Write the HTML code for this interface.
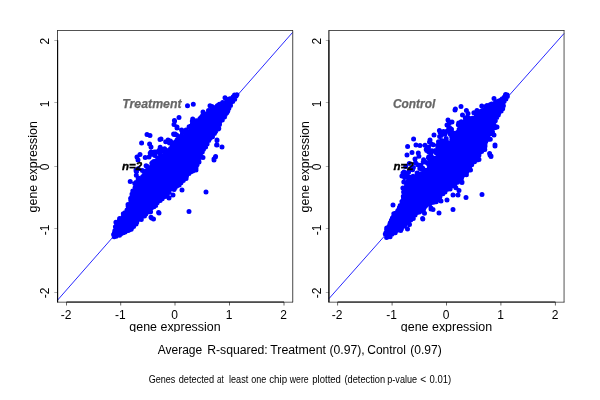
<!DOCTYPE html><html><head><meta charset="utf-8"><style>html,body{margin:0;padding:0;background:#fff}svg{display:block;will-change:transform}text{font-family:"Liberation Sans",sans-serif;fill:#000}</style></head><body>
<svg width="600" height="400" viewBox="0 0 600 400">
<rect width="600" height="400" fill="#fff"/>
<defs><clipPath id="cx"><rect x="0" y="0" width="600" height="332"/></clipPath></defs>
<line x1="57.5" y1="300.2" x2="292.5" y2="32.5" stroke="#2828ff" stroke-width="1.0"/>
<polygon points="114.6,236.0 115.0,236.3 117.1,235.1 117.4,234.9 121.9,232.9 122.0,232.9 126.0,231.4 126.2,231.3 129.3,230.4 131.3,229.1 132.4,226.4 132.5,226.2 132.7,225.9 132.8,225.7 133.0,225.5 133.2,225.3 133.4,225.2 133.7,225.0 133.9,224.9 136.6,223.8 137.6,222.1 137.8,221.8 138.0,221.5 147.0,212.5 147.1,212.4 152.1,207.9 152.1,207.9 156.5,204.0 161.9,198.1 162.0,198.0 168.0,192.0 168.2,191.9 168.4,191.7 175.4,186.7 175.6,186.6 180.1,183.9 183.8,179.3 184.0,179.0 186.9,176.2 189.8,172.3 190.0,172.0 193.9,168.1 197.5,163.6 199.3,158.1 199.4,158.0 201.4,153.0 201.5,152.8 201.6,152.6 207.5,142.7 210.5,136.7 210.6,136.5 210.8,136.2 211.0,136.0 215.8,131.3 218.4,126.8 220.3,121.1 220.4,120.9 220.6,120.6 220.7,120.4 223.2,116.9 226.1,112.5 228.6,108.6 230.5,104.7 230.7,104.4 233.7,99.9 233.7,99.9 236.2,96.4 237.0,95.2 233.9,96.0 232.0,98.0 231.7,98.2 231.4,98.4 226.4,101.4 226.3,101.5 221.4,103.9 217.5,106.3 212.6,109.8 212.5,109.9 204.7,114.8 200.8,118.1 200.6,118.3 193.8,123.1 190.1,126.9 186.2,131.7 186.0,132.0 185.8,132.2 180.1,136.9 176.3,142.6 176.2,142.8 171.2,148.8 171.0,149.0 170.8,149.2 158.8,159.2 158.7,159.2 154.0,163.0 150.2,167.7 150.2,167.8 145.2,173.8 145.0,174.0 136.5,182.5 134.7,188.8 134.6,189.0 132.7,193.9 130.7,200.8 130.7,200.9 128.7,206.9 128.5,207.3 126.5,211.3 126.3,211.5 126.2,211.8 123.9,214.5 122.5,217.3 122.4,217.5 122.2,217.8 122.0,218.0 121.7,218.2 119.7,219.8 117.4,223.9 117.4,223.9 115.8,226.7 115.8,230.0 115.8,230.3 115.8,230.5 115.7,230.8 115.6,231.0 115.5,231.2 115.4,231.5 115.2,231.7 114.1,233.1 113.9,234.6 114.6,236.0" fill="#0000ff"/>
<path d="M114.2 236.8h0M116.1 236.2h0M117.1 234.8h0M120.7 234.0h0M121.9 232.6h0M123.4 232.8h0M125.1 231.9h0M128.3 230.6h0M130.5 229.5h0M131.2 229.2h0M132.1 227.5h0M132.2 226.0h0M136.1 224.1h0M136.7 222.4h0M139.6 219.3h0M141.0 218.7h0M141.5 217.3h0M144.5 216.0h0M145.8 213.9h0M146.5 212.5h0M149.5 211.8h0M151.4 208.0h0M152.9 206.5h0M153.9 206.8h0M155.7 205.4h0M157.2 202.8h0M160.2 200.4h0M162.2 198.7h0M163.1 195.3h0M165.7 195.1h0M167.6 193.7h0M169.1 192.3h0M170.6 189.1h0M174.1 189.4h0M175.3 187.2h0M176.8 186.1h0M179.2 184.9h0M181.0 182.8h0M183.3 180.5h0M186.1 178.4h0M186.5 176.3h0M189.0 173.5h0M191.0 171.7h0M192.9 169.2h0M195.6 167.1h0M196.9 165.0h0M197.5 163.3h0M198.7 160.4h0M199.3 157.8h0M200.5 154.4h0M201.1 152.4h0M202.3 151.9h0M203.5 149.3h0M205.6 147.1h0M207.1 144.1h0M208.7 140.6h0M209.3 139.3h0M210.9 136.0h0M212.1 134.1h0M214.4 133.5h0M215.7 131.3h0M217.3 129.2h0M218.8 128.4h0M219.5 124.5h0M219.8 121.9h0M222.3 119.9h0M223.5 117.0h0M225.2 114.7h0M226.5 113.1h0M227.8 110.9h0M228.9 108.3h0M230.5 105.6h0M231.0 102.4h0M232.7 101.4h0M234.7 99.2h0M236.1 96.1h0M236.9 94.7h0M234.5 95.0h0M233.2 96.7h0M230.5 98.7h0M227.5 100.7h0M226.1 102.0h0M222.6 102.6h0M220.8 104.2h0M219.4 104.3h0M217.3 105.7h0M214.5 107.7h0M211.6 109.7h0M209.6 111.1h0M208.0 113.2h0M204.7 114.0h0M202.6 115.6h0M200.8 117.8h0M199.9 118.8h0M196.3 120.7h0M194.9 121.8h0M192.4 123.8h0M191.0 126.1h0M189.1 126.8h0M186.0 130.0h0M184.6 132.2h0M182.7 132.6h0M181.1 136.0h0M178.9 136.8h0M177.9 139.4h0M176.8 140.6h0M175.6 144.2h0M173.6 146.1h0M172.2 146.8h0M170.6 148.4h0M169.1 150.1h0M167.7 151.7h0M165.1 152.3h0M162.8 155.7h0M161.0 157.7h0M159.3 158.5h0M157.8 160.5h0M155.9 161.1h0M154.0 163.8h0M152.3 165.8h0M151.0 167.3h0M148.3 169.7h0M145.3 173.6h0M143.8 175.3h0M142.6 176.8h0M139.9 179.0h0M137.9 180.8h0M135.9 182.4h0M136.0 184.0h0M135.0 187.8h0M135.0 188.4h0M132.8 191.1h0M132.0 193.9h0M132.1 195.8h0M130.7 198.3h0M130.8 200.5h0M129.0 204.4h0M128.1 205.9h0M128.5 208.0h0M127.0 209.9h0M124.9 212.7h0M124.2 214.2h0M123.0 216.9h0M120.5 219.4h0M118.7 221.7h0M117.7 223.3h0M116.3 225.6h0M115.4 226.7h0M116.8 230.1h0M114.5 232.6h0M113.6 234.6h0M138.1 168.7h0M158.9 150.4h0M157.7 159.1h0M125.1 232.1h0M224.5 117.0h0M130.6 198.6h0M160.2 152.6h0M142.4 170.6h0M165.6 196.0h0M171.5 142.2h0M130.2 181.5h0M175.3 187.4h0M155.6 152.1h0M147.0 166.3h0M218.2 129.0h0M165.6 196.0h0M165.7 141.7h0M160.7 151.1h0M165.1 196.5h0M192.8 171.0h0M123.3 213.7h0M169.5 142.9h0M141.3 219.4h0M154.9 155.5h0M150.2 152.9h0M119.5 235.2h0M136.1 171.1h0M164.6 148.8h0M214.8 132.8h0M145.2 157.5h0M175.4 142.3h0M134.8 183.6h0M136.3 175.3h0M175.1 134.1h0M166.4 196.1h0M197.1 164.8h0M135.8 183.7h0M152.4 162.5h0M138.2 178.0h0M136.7 171.3h0M128.0 204.4h0M151.8 163.3h0M133.6 226.5h0M210.5 137.7h0M208.5 110.4h0M218.1 105.3h0M154.3 151.9h0M146.8 170.4h0M153.7 161.6h0M212.8 108.2h0M159.7 153.1h0M114.8 230.8h0M177.0 139.9h0M227.0 112.6h0M182.4 133.0h0M181.6 129.9h0M167.4 141.2h0M192.6 119.8h0M159.5 157.3h0M115.9 222.3h0M119.6 218.5h0M229.2 98.9h0M201.6 116.9h0M183.3 132.6h0M150.6 211.7h0M160.2 147.2h0M170.4 140.9h0M153.1 154.4h0M176.6 135.1h0M119.5 219.6h0M146.1 165.7h0M165.1 152.6h0M192.7 119.0h0M192.3 121.2h0M212.5 136.7h0M206.0 192.0h0M189.0 211.6h0M158.6 212.6h0M151.6 218.0h0M173.0 195.0h0M169.0 198.0h0M182.0 190.0h0M196.0 170.0h0M151.0 217.2h0M153.5 219.0h0M159.0 213.0h0M147.0 134.4h0M150.0 135.4h0M141.6 143.0h0M160.0 139.6h0M168.0 140.4h0M170.0 141.6h0M149.6 144.0h0M151.0 147.0h0M174.4 120.4h0M179.0 117.6h0M174.0 124.4h0M177.0 127.0h0M174.0 134.4h0M140.0 154.4h0M137.0 157.0h0M138.0 160.0h0M151.0 152.0h0M149.0 157.0h0M136.0 170.0h0M203.0 112.0h0M222.0 147.0h0M217.0 145.0h0M217.0 140.4h0M215.4 157.0h0M214.0 160.0h0M203.0 157.4h0M199.0 162.0h0M196.0 168.0h0M187.5 105.7h0M193.3 104.3h0M179.0 117.4h0M174.6 121.0h0M177.0 128.0h0M173.6 134.0h0M210.0 105.8h0M212.0 106.5h0M225.0 97.8h0M168.0 140.0h0M161.0 139.0h0M217.0 140.0h0M216.6 145.0h0M222.0 147.0h0M215.6 156.6h0M214.0 159.0h0" stroke="#0000ff" stroke-width="5" stroke-linecap="round" fill="none"/>
<line x1="57.0" y1="30.5" x2="293.0" y2="30.5" stroke="#000" stroke-width="1" stroke-opacity="0.68"/>
<line x1="57.0" y1="302.2" x2="293.0" y2="302.2" stroke="#000" stroke-width="1" stroke-opacity="0.62"/>
<line x1="57.5" y1="30.5" x2="57.5" y2="302.2" stroke="#000" stroke-width="1" stroke-opacity="0.7"/>
<line x1="292.7" y1="30.5" x2="292.7" y2="302.2" stroke="#000" stroke-width="1.1" stroke-opacity="0.66"/>
<line x1="57.6" y1="40.3" x2="57.6" y2="302.2" stroke="#000" stroke-width="1.2" stroke-opacity="0.9"/>
<line x1="66.5" y1="302.0" x2="284.0" y2="302.0" stroke="#000" stroke-width="1.5" stroke-opacity="0.62"/>
<line x1="66.5" y1="302.2" x2="66.5" y2="305.5" stroke="#000" stroke-opacity="0.6"/>
<line x1="57.5" y1="292.5" x2="54.3" y2="292.5" stroke="#000" stroke-opacity="0.4" stroke-width="0.8"/>
 <text x="66.1" y="319.4" font-size="12" text-anchor="middle">-2</text>
<text transform="translate(49.2,292.9) rotate(-90)" font-size="12" text-anchor="middle">-2</text>
<line x1="120.7" y1="302.2" x2="120.7" y2="305.5" stroke="#000" stroke-opacity="0.6"/>
<line x1="57.5" y1="228.5" x2="54.3" y2="228.5" stroke="#000" stroke-opacity="0.4" stroke-width="0.8"/>
 <text x="120.3" y="319.4" font-size="12" text-anchor="middle">-1</text>
<text transform="translate(49.2,229.9) rotate(-90)" font-size="12" text-anchor="middle">-1</text>
<line x1="175.0" y1="302.2" x2="175.0" y2="305.5" stroke="#000" stroke-opacity="0.6"/>
<line x1="57.5" y1="166.5" x2="54.3" y2="166.5" stroke="#000" stroke-opacity="0.4" stroke-width="0.8"/>
 <text x="174.6" y="319.4" font-size="12" text-anchor="middle">0</text>
<text transform="translate(49.2,166.9) rotate(-90)" font-size="12" text-anchor="middle">0</text>
<line x1="229.5" y1="302.2" x2="229.5" y2="305.5" stroke="#000" stroke-opacity="0.6"/>
<line x1="57.5" y1="102.5" x2="54.3" y2="102.5" stroke="#000" stroke-opacity="0.4" stroke-width="0.8"/>
 <text x="229.1" y="319.4" font-size="12" text-anchor="middle">1</text>
<text transform="translate(49.2,103.9) rotate(-90)" font-size="12" text-anchor="middle">1</text>
<line x1="284.0" y1="302.2" x2="284.0" y2="305.5" stroke="#000" stroke-opacity="0.6"/>
<line x1="57.5" y1="40.5" x2="54.3" y2="40.5" stroke="#000" stroke-opacity="0.4" stroke-width="0.8"/>
 <text x="283.6" y="319.4" font-size="12" text-anchor="middle">2</text>
<text transform="translate(49.2,41.2) rotate(-90)" font-size="12" text-anchor="middle">2</text>
<text x="175.0"  y="331" font-size="12.45" text-anchor="middle" clip-path="url(#cx)">gene expression</text>
<text transform="translate(37.0,166.8) rotate(-90)" font-size="12.45" text-anchor="middle">gene expression</text>
<text x="122.3" y="107.8" font-size="12.3" font-weight="bold" font-style="italic" stroke="#666" stroke-width="0.25" style="fill:#666">Treatment</text>
<text x="122.1" y="170.2" font-size="11.5" font-weight="bold" font-style="italic" stroke="#000" stroke-width="0.35">n=2</text>
<line x1="329.0" y1="298.6" x2="564.0" y2="33.5" stroke="#2828ff" stroke-width="1.0"/>
<polygon points="386.6,236.6 387.9,237.0 390.4,236.1 393.5,233.0 393.7,232.9 393.9,232.7 394.1,232.6 397.6,230.6 397.7,230.5 400.5,229.1 402.9,227.1 405.2,223.9 405.4,223.7 405.6,223.5 405.8,223.3 406.0,223.1 409.3,221.0 410.5,218.7 410.6,218.5 410.8,218.3 411.0,218.1 411.2,217.9 415.2,214.4 415.3,214.3 415.5,214.1 419.2,211.8 425.0,206.0 425.2,205.8 425.4,205.7 428.4,203.7 428.7,203.5 434.5,200.6 440.1,195.9 450.0,186.0 450.2,185.8 450.4,185.7 456.3,181.7 461.0,178.0 466.8,171.2 472.7,163.3 477.7,156.4 481.6,150.6 483.4,146.9 487.4,137.0 487.5,136.7 490.4,130.9 492.4,126.0 494.3,120.1 494.5,119.8 494.6,119.6 494.8,119.3 497.8,115.3 498.0,115.0 499.5,113.5 500.8,109.2 500.8,109.1 501.8,106.1 502.0,105.7 504.0,101.7 504.1,101.6 504.2,101.4 506.6,98.1 507.7,95.5 505.7,96.1 503.5,97.5 501.3,100.6 501.1,100.9 500.9,101.1 500.7,101.2 500.4,101.4 497.9,102.9 497.7,103.0 497.4,103.2 497.0,103.2 492.8,104.1 489.8,106.6 489.6,106.8 486.7,108.8 484.2,110.7 484.0,110.8 483.8,111.0 483.6,111.1 483.3,111.2 483.0,111.2 479.0,112.0 477.8,113.6 475.4,117.5 475.2,117.7 475.0,117.9 474.8,118.1 474.6,118.3 474.4,118.4 474.1,118.6 473.9,118.7 473.6,118.7 473.3,118.8 470.0,119.2 466.1,122.0 463.4,126.4 463.2,126.7 463.1,126.9 462.9,127.1 458.0,131.5 454.2,135.7 450.9,141.0 450.7,141.2 446.2,147.2 446.2,147.3 441.2,153.3 441.1,153.4 436.1,158.8 428.2,168.7 428.0,169.0 427.7,169.2 422.7,173.2 422.4,173.4 417.4,176.4 417.3,176.5 411.5,179.4 408.2,181.8 406.6,185.1 404.7,189.8 403.8,194.3 403.8,199.0 403.8,199.3 403.7,199.6 403.7,199.9 401.7,205.9 401.6,206.1 401.4,206.4 401.3,206.6 401.1,206.8 398.4,210.1 397.0,212.8 396.9,213.0 396.7,213.2 396.6,213.4 396.4,213.6 396.2,213.8 395.9,213.9 394.3,214.9 393.1,217.9 392.2,220.9 392.1,221.1 391.9,221.4 391.8,221.6 391.7,221.8 391.5,222.0 389.9,223.6 388.6,226.6 388.5,226.8 388.3,227.1 388.2,227.3 388.0,227.5 386.5,229.0 386.8,230.5 386.8,230.8 386.8,231.1 386.8,231.4 386.7,231.7 386.6,231.9 386.5,232.2 386.4,232.4 385.3,234.3 385.3,235.0 386.6,236.6" fill="#0000ff"/>
<path d="M386.6 237.5h0M390.1 236.8h0M391.8 234.3h0M395.2 232.8h0M396.6 230.4h0M400.7 230.5h0M401.4 228.9h0M403.7 226.3h0M404.5 225.7h0M407.4 222.7h0M408.5 221.6h0M410.7 220.1h0M411.8 217.6h0M413.5 216.1h0M415.1 215.1h0M417.4 212.6h0M419.4 212.0h0M422.0 210.7h0M423.2 208.0h0M425.0 206.4h0M426.2 205.3h0M428.5 204.1h0M430.5 202.9h0M433.1 201.3h0M435.3 200.5h0M437.5 198.8h0M438.7 197.2h0M439.9 196.8h0M442.9 193.8h0M445.0 192.1h0M445.0 191.2h0M446.9 189.6h0M448.9 186.9h0M451.6 184.7h0M452.9 185.0h0M454.2 182.0h0M457.5 182.3h0M459.1 180.1h0M461.2 178.2h0M462.7 175.6h0M465.1 173.3h0M466.5 172.8h0M468.8 170.0h0M469.7 166.7h0M471.7 164.7h0M473.7 161.3h0M475.7 160.3h0M477.3 157.7h0M478.9 155.6h0M479.5 152.8h0M481.6 151.4h0M482.9 148.9h0M484.5 146.1h0M485.0 145.0h0M485.7 141.7h0M486.6 140.0h0M486.8 138.8h0M488.1 136.0h0M489.7 134.0h0M490.2 130.4h0M491.7 128.7h0M492.3 126.8h0M493.8 123.9h0M493.7 121.2h0M495.4 118.7h0M496.7 117.6h0M498.3 115.0h0M498.9 112.9h0M501.2 111.0h0M501.7 107.8h0M501.4 105.8h0M503.0 102.7h0M504.2 101.2h0M505.9 99.1h0M507.4 96.6h0M507.3 95.1h0M505.4 95.3h0M504.4 97.0h0M502.3 98.7h0M501.0 99.9h0M499.2 100.8h0M497.5 102.8h0M494.7 103.3h0M491.6 104.1h0M490.0 106.2h0M487.7 107.5h0M484.3 110.2h0M481.6 111.0h0M480.5 112.2h0M477.7 112.7h0M476.4 115.5h0M474.8 118.3h0M472.9 118.6h0M469.9 118.6h0M467.0 120.3h0M465.2 121.3h0M465.1 122.1h0M463.3 125.6h0M461.6 127.5h0M460.1 129.6h0M458.0 132.0h0M456.3 132.9h0M455.5 134.4h0M453.6 136.7h0M452.6 137.8h0M451.8 139.7h0M448.7 143.0h0M447.5 144.5h0M446.1 147.8h0M444.4 149.8h0M443.0 150.3h0M441.1 153.3h0M440.0 154.3h0M438.3 156.3h0M436.1 158.2h0M435.4 160.4h0M432.9 161.8h0M431.1 164.4h0M429.3 167.9h0M428.3 169.7h0M425.7 170.6h0M423.4 172.5h0M421.8 174.0h0M418.5 174.1h0M417.0 176.5h0M414.2 178.4h0M411.6 179.0h0M410.5 180.5h0M408.0 181.4h0M406.6 184.7h0M406.2 186.7h0M404.2 189.5h0M403.6 191.9h0M403.3 196.2h0M403.5 197.5h0M403.4 199.6h0M401.9 201.5h0M402.6 203.5h0M402.5 205.9h0M401.0 207.5h0M397.9 210.6h0M397.4 211.7h0M395.4 213.3h0M393.8 213.7h0M393.5 216.6h0M392.5 218.3h0M391.4 220.3h0M390.2 223.1h0M389.8 224.4h0M388.8 226.5h0M386.7 227.9h0M386.6 229.2h0M386.0 232.6h0M385.3 234.0h0M451.5 129.3h0M422.8 168.2h0M441.1 135.6h0M413.1 176.3h0M409.0 177.2h0M465.4 118.6h0M450.3 134.3h0M443.6 143.8h0M399.6 207.3h0M408.9 176.8h0M493.8 127.9h0M428.8 156.8h0M490.3 139.2h0M441.8 151.0h0M408.6 171.9h0M449.3 127.2h0M485.0 146.3h0M430.4 158.0h0M450.7 128.8h0M502.4 107.5h0M461.3 121.8h0M446.3 131.4h0M438.0 145.0h0M448.7 128.1h0M420.4 167.4h0M451.0 134.8h0M428.7 164.4h0M448.8 130.4h0M445.2 140.9h0M404.7 177.5h0M426.2 149.5h0M417.8 164.7h0M403.8 182.0h0M476.7 159.8h0M413.4 167.4h0M460.7 178.9h0M491.7 129.1h0M452.3 132.3h0M413.2 216.7h0M466.4 174.8h0M446.2 138.6h0M390.3 222.7h0M428.6 151.7h0M444.9 192.0h0M443.1 143.3h0M461.5 178.3h0M399.4 207.4h0M474.3 112.9h0M423.7 209.0h0M404.6 172.8h0M503.4 105.8h0M490.4 104.6h0M434.7 158.4h0M443.5 131.4h0M458.3 124.8h0M436.2 201.8h0M435.6 152.0h0M440.3 147.5h0M400.2 205.5h0M470.5 170.1h0M478.1 159.7h0M474.5 161.8h0M437.8 147.1h0M477.0 110.5h0M413.3 218.5h0M429.7 162.0h0M436.5 153.2h0M457.8 181.8h0M505.6 94.4h0M459.1 129.2h0M454.7 184.1h0M458.7 123.0h0M428.4 157.7h0M426.5 162.4h0M442.7 147.2h0M415.5 162.7h0M454.9 184.3h0M497.0 101.7h0M475.5 113.4h0M449.0 188.6h0M467.3 117.1h0M419.8 168.6h0M417.1 172.9h0M466.3 118.1h0M409.3 163.5h0M428.3 151.0h0M426.7 150.6h0M493.7 126.4h0M401.9 176.0h0M438.5 141.8h0M443.5 133.9h0M473.9 112.8h0M441.6 140.6h0M418.9 156.2h0M454.8 183.3h0M494.5 125.9h0M487.7 139.5h0M418.9 174.2h0M392.4 218.1h0M449.2 128.1h0M405.7 166.5h0M411.4 178.3h0M428.5 147.2h0M484.8 149.4h0M436.1 151.0h0M478.6 111.8h0M421.6 173.4h0M423.2 161.9h0M495.3 120.8h0M406.9 173.2h0M452.0 136.7h0M433.5 202.3h0M440.6 146.4h0M410.6 169.4h0M429.5 141.9h0M439.6 136.5h0M451.6 136.5h0M486.3 106.1h0M431.6 143.9h0M429.9 203.8h0M425.0 145.3h0M455.9 187.7h0M449.5 122.7h0M417.7 173.2h0M439.4 130.5h0M435.5 150.4h0M443.6 149.7h0M495.8 127.4h0M466.2 119.6h0M437.6 152.5h0M431.9 150.8h0M502.7 108.8h0M420.9 165.2h0M459.5 125.4h0M437.7 152.2h0M492.5 132.0h0M472.6 118.2h0M431.4 156.4h0M477.4 110.8h0M450.1 189.0h0M412.6 169.8h0M441.1 143.6h0M406.9 183.4h0M500.3 101.0h0M402.9 187.9h0M430.8 153.6h0M466.4 110.5h0M438.6 150.2h0M422.6 168.8h0M418.3 152.9h0M423.6 159.7h0M446.3 140.5h0M433.2 144.7h0M462.5 114.9h0M435.0 159.4h0M481.8 106.1h0M423.7 161.0h0M430.5 164.7h0M465.7 121.8h0M468.0 113.6h0M393.0 205.0h0M403.0 173.0h0M482.0 194.4h0M466.0 197.4h0M453.0 209.4h0M439.0 213.0h0M433.0 209.4h0M431.0 208.0h0M422.6 218.6h0M447.0 200.0h0M441.0 201.0h0M459.0 190.6h0M458.0 195.0h0M453.0 195.0h0M462.0 182.4h0M407.5 229.0h0M409.5 224.5h0M422.8 219.0h0M424.5 213.2h0M431.0 209.0h0M413.6 139.0h0M407.6 146.6h0M416.0 145.0h0M420.0 145.6h0M412.0 152.4h0M407.0 155.0h0M415.0 159.0h0M404.0 172.0h0M402.0 176.0h0M455.0 110.0h0M491.0 156.0h0M489.6 153.6h0M495.0 146.0h0M462.0 182.0h0M452.0 186.0h0M479.0 159.4h0M455.4 109.0h0M461.0 106.6h0M448.0 120.0h0M452.0 122.0h0M447.0 125.0h0M449.0 128.0h0M440.0 132.0h0M445.0 134.0h0M434.0 135.0h0M430.0 140.0h0M494.0 98.5h0M487.0 105.5h0M497.0 127.0h0M494.0 135.0h0M495.0 145.0h0M490.0 155.0h0M491.0 156.6h0" stroke="#0000ff" stroke-width="5" stroke-linecap="round" fill="none"/>
<line x1="328.5" y1="30.5" x2="564.5" y2="30.5" stroke="#000" stroke-width="1" stroke-opacity="0.68"/>
<line x1="328.5" y1="302.2" x2="564.5" y2="302.2" stroke="#000" stroke-width="1" stroke-opacity="0.62"/>
<line x1="328.85" y1="30.5" x2="328.85" y2="302.2" stroke="#000" stroke-width="1.6" stroke-opacity="0.62"/>
<line x1="564.1" y1="30.5" x2="564.1" y2="302.2" stroke="#000" stroke-width="1.7" stroke-opacity="0.4"/>
<line x1="328.85" y1="40.3" x2="328.85" y2="302.2" stroke="#000" stroke-width="1.5" stroke-opacity="0.6"/>
<line x1="337.6" y1="302.0" x2="555.4" y2="302.0" stroke="#000" stroke-width="1.5" stroke-opacity="0.62"/>
<line x1="337.6" y1="302.2" x2="337.6" y2="305.5" stroke="#000" stroke-opacity="0.6"/>
<line x1="329.0" y1="292.5" x2="325.8" y2="292.5" stroke="#000" stroke-opacity="0.4" stroke-width="0.8"/>
 <text x="337.2" y="319.4" font-size="12" text-anchor="middle">-2</text>
<text transform="translate(320.7,292.9) rotate(-90)" font-size="12" text-anchor="middle">-2</text>
<line x1="392.1" y1="302.2" x2="392.1" y2="305.5" stroke="#000" stroke-opacity="0.6"/>
<line x1="329.0" y1="228.5" x2="325.8" y2="228.5" stroke="#000" stroke-opacity="0.4" stroke-width="0.8"/>
 <text x="391.7" y="319.4" font-size="12" text-anchor="middle">-1</text>
<text transform="translate(320.7,229.9) rotate(-90)" font-size="12" text-anchor="middle">-1</text>
<line x1="446.5" y1="302.2" x2="446.5" y2="305.5" stroke="#000" stroke-opacity="0.6"/>
<line x1="329.0" y1="166.5" x2="325.8" y2="166.5" stroke="#000" stroke-opacity="0.4" stroke-width="0.8"/>
 <text x="446.1" y="319.4" font-size="12" text-anchor="middle">0</text>
<text transform="translate(320.7,166.9) rotate(-90)" font-size="12" text-anchor="middle">0</text>
<line x1="500.9" y1="302.2" x2="500.9" y2="305.5" stroke="#000" stroke-opacity="0.6"/>
<line x1="329.0" y1="102.5" x2="325.8" y2="102.5" stroke="#000" stroke-opacity="0.4" stroke-width="0.8"/>
 <text x="500.5" y="319.4" font-size="12" text-anchor="middle">1</text>
<text transform="translate(320.7,103.9) rotate(-90)" font-size="12" text-anchor="middle">1</text>
<line x1="555.4" y1="302.2" x2="555.4" y2="305.5" stroke="#000" stroke-opacity="0.6"/>
<line x1="329.0" y1="40.5" x2="325.8" y2="40.5" stroke="#000" stroke-opacity="0.4" stroke-width="0.8"/>
 <text x="555.0" y="319.4" font-size="12" text-anchor="middle">2</text>
<text transform="translate(320.7,41.2) rotate(-90)" font-size="12" text-anchor="middle">2</text>
<text x="446.5"  y="331" font-size="12.45" text-anchor="middle" clip-path="url(#cx)">gene expression</text>
<text transform="translate(308.5,166.8) rotate(-90)" font-size="12.45" text-anchor="middle">gene expression</text>
<text x="393.0" y="107.8" font-size="11.9" font-weight="bold" font-style="italic" stroke="#666" stroke-width="0.25" style="fill:#666">Control</text>
<text x="393.6" y="170.2" font-size="11.5" font-weight="bold" font-style="italic" stroke="#000" stroke-width="0.35">n=2</text>
<text y="354.3" font-size="12.21"><tspan x="157.7" textLength="44.5" lengthAdjust="spacingAndGlyphs">Average</tspan><tspan x="207.2" textLength="60.5" lengthAdjust="spacingAndGlyphs">R-squared:</tspan><tspan x="270.2" textLength="55.8" lengthAdjust="spacingAndGlyphs">Treatment</tspan><tspan x="329.4" textLength="35.3" lengthAdjust="spacingAndGlyphs">(0.97),</tspan><tspan x="367.2" textLength="38.8" lengthAdjust="spacingAndGlyphs">Control</tspan><tspan x="410.2" textLength="31.5" lengthAdjust="spacingAndGlyphs">(0.97)</tspan></text>
<text y="383" font-size="10"><tspan x="148.7" textLength="26.7" lengthAdjust="spacingAndGlyphs">Genes</tspan><tspan x="178.7" textLength="35.4" lengthAdjust="spacingAndGlyphs">detected</tspan><tspan x="217.0" textLength="6.7" lengthAdjust="spacingAndGlyphs">at</tspan><tspan x="229.0" textLength="19.2" lengthAdjust="spacingAndGlyphs">least</tspan><tspan x="251.2" textLength="15.0" lengthAdjust="spacingAndGlyphs">one</tspan><tspan x="269.2" textLength="17.9" lengthAdjust="spacingAndGlyphs">chip</tspan><tspan x="289.8" textLength="18.9" lengthAdjust="spacingAndGlyphs">were</tspan><tspan x="312.3" textLength="28.6" lengthAdjust="spacingAndGlyphs">plotted</tspan><tspan x="344.5" textLength="40.6" lengthAdjust="spacingAndGlyphs">(detection</tspan><tspan x="387.3" textLength="29.8" lengthAdjust="spacingAndGlyphs">p-value</tspan><tspan x="420.3" textLength="5.9" lengthAdjust="spacingAndGlyphs">&lt;</tspan><tspan x="429.5" textLength="21.7" lengthAdjust="spacingAndGlyphs">0.01)</tspan></text>
</svg></body></html>
